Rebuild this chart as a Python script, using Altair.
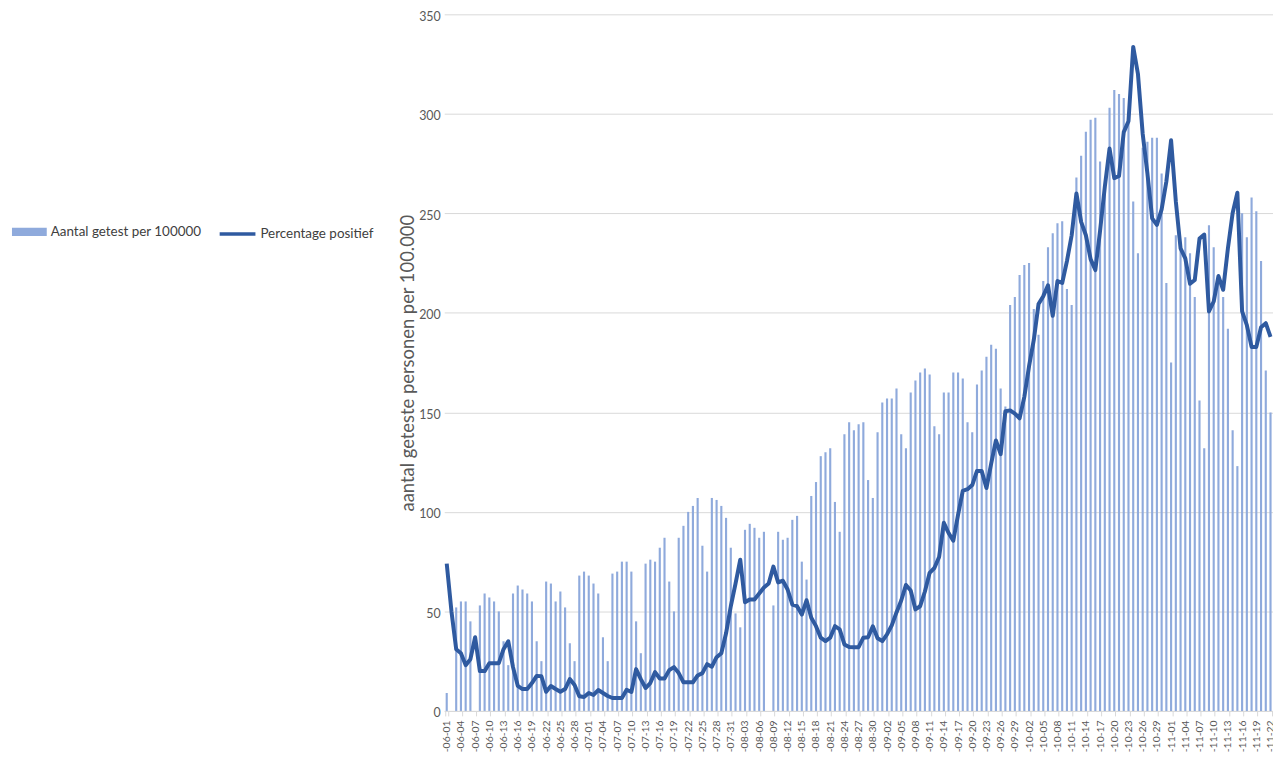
import altair as alt
import pandas as pd

# --- data (daily, 2020-06-01 .. 2020-11-22) ---
start_datum = "2020-06-01"
aantal_dagen = 175

aantal_getest = [
    9, None, 52, 55, 55, 45, None, 53, 59, 57, 55, 50, 35, 23,
    59, 63, 61, 59, 55, 35, 25, 65, 64, 55, 60, 52, 34, 25,
    68, 70, 68, 64, 59, 37, 25, 69, 70, 75, 75, 70, 45, 29,
    74, 76, 75, 82, 87, 65, 50, 87, 93, 100, 103, 107, 83, 70,
    107, 106, 103, 97, 82, 49, 42, 91, 94, 92, 87, 90, None, 53,
    90, 86, 87, 96, 98, 75, 66, 108, 115, 128, 130, 132, 105, 90,
    139, 145, 141, 144, 145, 116, 107, 140, 155, 157, 157, 162, 139, 132,
    160, 166, 170, 172, 169, 143, 139, 160, 160, 170, 170, 167, 145, 140,
    164, 171, 178, 184, 182, 162, 153, 204, 208, 219, 224, 225, 202, 189,
    216, 233, 240, 245, 246, 212, 204, 268, 279, 291, 297, 298, 276, 262,
    303, 312, 310, 308, 298, 256, 230, 283, 286, 288, 288, 270, 215, 175,
    239, 234, 238, 230, 208, 156, 132, 244, 233, 215, 208, 192, 141, 123,
    250, 238, 258, 251, 226, 171, 150,
]

percentage_positief = [
    74, 50, 31, 29, 23, 26, 37, 20, 20, 24, 24, 24, 31, 35,
    22, 12.6, 11, 11, 14, 17.6, 17.4, 9.6, 12.5, 11, 9.6, 11, 16, 13,
    7.4, 7, 9, 8, 10.5, 9, 7.5, 6.5, 6.5, 6.5, 10.6, 9.5, 21, 16,
    11.5, 14, 19.5, 16.3, 16.3, 20.5, 22, 19, 14.4, 14.4, 14.4, 17.8, 19, 23.5,
    22.2, 27, 29, 39, 52.6, 64, 76, 54.6, 56, 56, 59, 62, 64, 72.5,
    64.6, 65.4, 61, 53.4, 52.6, 48.4, 55.6, 46.8, 42.6, 36.8, 35.1, 36.8, 42.6, 41,
    33.4, 32.1, 32, 32, 36.8, 37, 42.5, 36.5, 35.1, 38.5, 43, 49.5, 55.5, 63.3,
    60.5, 51, 52.6, 60, 69.4, 71.8, 77.3, 94.5, 89.4, 85.5, 98.5, 110.6, 111.4, 113.5,
    120.6, 120.5, 112, 124.2, 135.9, 129, 150.6, 151, 149.4, 147, 157.8, 173.2, 186.4, 204.4,
    208.4, 213.8, 198.5, 216, 215, 226, 239, 260, 245.7, 239, 227, 221.5, 241.3, 263.3,
    282.6, 267.7, 268.8, 290.8, 296.3, 333.6, 320, 290, 270, 247.5, 244.2, 252, 266, 286.7,
    256, 232.4, 227.4, 214.6, 216.5, 237.3, 239.3, 200.7, 205.7, 218.5, 211.6, 232.4, 250.2, 260.4,
    200.7, 193.8, 182.9, 182.9, 192.8, 194.8, 187.9,
]

reeks_balk = "Aantal getest per 100000"
reeks_lijn = "Percentage positief"
y_titel = "aantal geteste personen per 100.000"
y_ticks = [0, 50, 100, 150, 200, 250, 300, 350]

dagen = pd.date_range(start_datum, periods=aantal_dagen).strftime("-%m-%d").tolist()
dag_labels = dagen[::3]

df = pd.DataFrame({
    "dag": dagen,
    "aantal": aantal_getest,
    "positief": percentage_positief,
    "reeks1": reeks_balk,
    "reeks2": reeks_lijn,
})

FONT = "Lato"
GRAY = "#595959"
GRID = "#d9d9d9"
BAR_COLOR = "#8FAADC"
LINE_COLOR = "#2F5AA0"

x_enc = alt.X(
    "dag:N",
    sort=None,
    scale=alt.Scale(domain=dagen, paddingInner=0.55, paddingOuter=0.3),
    axis=alt.Axis(
        values=dag_labels,
        labelAngle=-90,
        labelFont=FONT,
        labelFontSize=10.5,
        labelColor=GRAY,
        labelPadding=4,
        tickColor=GRID,
        tickSize=5,
        tickBand="extent",
        domainColor=GRID,
        grid=False,
        title=None,
    ),
)

y_scale = alt.Scale(domain=[0, 350], nice=False)

bars = alt.Chart(df).mark_bar(opacity=1).encode(
    x=x_enc,
    y=alt.Y(
        "aantal:Q",
        scale=y_scale,
        axis=alt.Axis(
            values=y_ticks,
            grid=True,
            gridColor=GRID,
            gridWidth=1,
            domain=False,
            ticks=False,
            tickSize=0,
            labelPadding=4,
            labelOffset=2,
            labelFont=FONT,
            labelFontSize=12.5,
            labelColor=GRAY,
            title=y_titel,
            titleFont=FONT,
            titleFontSize=18.5,
            titleFontWeight="normal",
            titleColor=GRAY,
            titlePadding=1,
        ),
    ),
    color=alt.Color(
        "reeks1:N",
        scale=alt.Scale(domain=[reeks_balk], range=[BAR_COLOR]),
        legend=alt.Legend(
            orient="none",
            legendX=-435,
            legendY=201.5,
            title=None,
            padding=0,
            symbolType="M-1,-0.24L1,-0.24L1,0.24L-1,0.24Z",
            symbolSize=1225,
            symbolStrokeWidth=0,
            labelFont=FONT,
            labelFontSize=13.5,
            labelColor="#404040",
            labelOffset=4,
        ),
    ),
)

line = alt.Chart(df).mark_line(strokeWidth=4, strokeJoin="round").encode(
    x=x_enc,
    y=alt.Y("positief:Q", scale=y_scale),
    stroke=alt.Stroke(
        "reeks2:N",
        scale=alt.Scale(domain=[reeks_lijn], range=[LINE_COLOR]),
        legend=alt.Legend(
            orient="none",
            legendX=-228,
            legendY=201,
            title=None,
            padding=0,
            symbolType="stroke",
            symbolSize=1296,
            symbolStrokeWidth=3.5,
            labelFont=FONT,
            labelFontSize=13.5,
            labelColor="#404040",
            labelOffset=3,
        ),
    ),
)

chart = (
    alt.layer(bars, line)
    .properties(
        width=834,
        height=701,
        autosize=alt.AutoSizeParams(type="none"),
        padding={"left": 439, "top": 4, "right": 0, "bottom": 42},
    )
    .configure_view(strokeWidth=0)
)

chart.save("out.html", embed_options={"renderer": "svg", "actions": False})
